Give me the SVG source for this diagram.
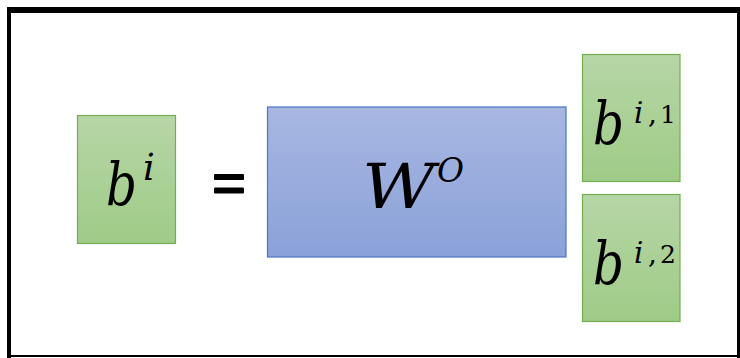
<svg xmlns="http://www.w3.org/2000/svg" width="740" height="358" viewBox="0 0 740 358">
  <defs>
    <linearGradient id="gGreen" x1="0" y1="0" x2="0" y2="1">
      <stop offset="0" stop-color="#b6d6a6"/>
      <stop offset="1" stop-color="#9fcb87"/>
    </linearGradient>
    <linearGradient id="gBlue" x1="0" y1="0" x2="0" y2="1">
      <stop offset="0" stop-color="#a8b7e2"/>
      <stop offset="1" stop-color="#8aa1d8"/>
    </linearGradient>
    <style>
      .green { fill: url(#gGreen); stroke: #74ad50; stroke-width: 1.2; }
      .blue { fill: url(#gBlue); stroke: #4a76c6; stroke-width: 1.2; }
      .math { font-family: "DejaVu Serif", "Liberation Serif", serif; font-style: italic; fill: #000; }
      .num { font-family: "DejaVu Serif", "Liberation Serif", serif; font-style: normal; fill: #000; }
    </style>
  </defs>

  <rect x="0" y="0" width="740" height="358" fill="#ffffff"/>

  <g id="frame" fill="#000">
    <rect x="7" y="7" width="733" height="6"/>
    <rect x="7" y="7" width="4" height="351"/>
    <rect x="737" y="7" width="3" height="351"/>
    <rect x="7" y="355" width="733" height="2"/>
  </g>

  <g id="node-bi">
    <rect class="green" x="77.5" y="115.5" width="98" height="128"/>
    <text class="math" x="106" y="205" font-size="60" textLength="31" lengthAdjust="spacingAndGlyphs">b</text>
    <text class="math" x="143" y="180" font-size="37">i</text>
  </g>

  <g id="equals" fill="#000">
    <rect x="214" y="174" width="30" height="6" rx="1"/>
    <rect x="214" y="187.5" width="30" height="6" rx="1"/>
  </g>

  <g id="node-wo">
    <rect class="blue" x="267.5" y="107" width="298.5" height="150"/>
    <text class="math" x="362" y="208" font-size="62" textLength="73" lengthAdjust="spacingAndGlyphs">W</text>
    <text class="math" x="437" y="182" font-size="33">O</text>
  </g>

  <g id="node-bi1">
    <rect class="green" x="582.5" y="54.5" width="97.5" height="127"/>
    <text class="math" x="593" y="144" font-size="60" textLength="31" lengthAdjust="spacingAndGlyphs">b</text>
    <text class="math" x="634" y="123" font-size="29">i</text>
    <text class="num" x="648" y="123" font-size="28">,</text>
    <text class="num" x="660" y="123" font-size="25">1</text>
  </g>

  <g id="node-bi2">
    <rect class="green" x="582.5" y="194.5" width="97.5" height="127"/>
    <text class="math" x="593" y="284" font-size="60" textLength="31" lengthAdjust="spacingAndGlyphs">b</text>
    <text class="math" x="634" y="263" font-size="29">i</text>
    <text class="num" x="648" y="263" font-size="28">,</text>
    <text class="num" x="660" y="263" font-size="25">2</text>
  </g>
</svg>
